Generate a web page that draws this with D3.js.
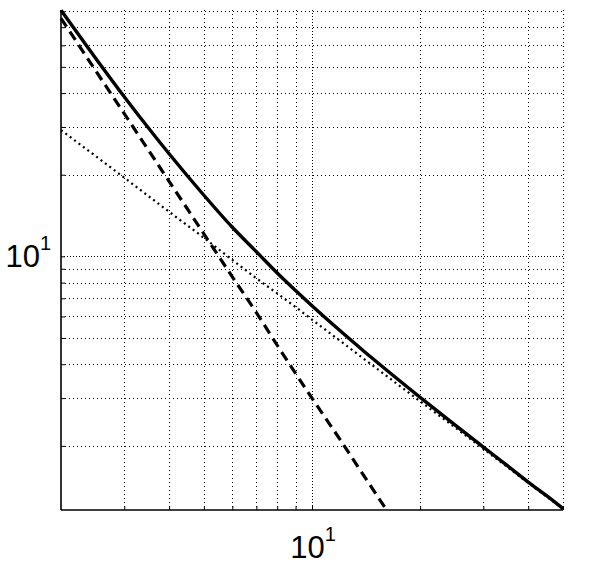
<!DOCTYPE html>
<html>
<head>
<meta charset="utf-8">
<script src="https://cdn.jsdelivr.net/npm/d3@7"></script>
<style>
  html, body { margin: 0; padding: 0; background: #fff; }
  svg { display: block; }
  text { font-family: "Liberation Sans", Arial, Helvetica, sans-serif; fill: #000; }
</style>
</head>
<body>
<svg id="chart" width="594" height="567"></svg>
<script>
// ---- data ----
const xValues = [2, 2.5, 3, 3.5, 4, 5, 6, 7, 8, 9, 10, 12, 14, 16, 20, 25, 30, 35, 40, 45, 50];
const totalValues = [80.9, 53.7, 38.8, 29.8, 23.9, 16.8, 12.8, 10.4, 8.68, 7.48, 6.57, 5.30, 4.45, 3.84, 3.02, 2.39, 1.98, 1.69, 1.47, 1.31, 1.174];
const dottedValues = [29.2, 23.4, 19.5, 16.7, 14.6, 11.7, 9.7, 8.3, 7.3, 6.5, 5.84, 4.87, 4.17, 3.65, 2.92, 2.34, 1.95, 1.67, 1.46, 1.30, 1.17];
const dashedX = [2, 2.5, 3, 3.5, 4, 5, 6, 7, 8, 9, 10, 12, 14, 16];
const dashedValues = [75.5, 48.3, 33.6, 24.7, 18.9, 12.1, 8.4, 6.2, 4.7, 3.7, 3.0, 2.1, 1.54, 1.18];
const xDomain = [2, 50];
const yDomain = [1.16, 81];
const xTickLabels = [10];
const yTickLabels = [10];
const xGrid = [3, 4, 5, 6, 7, 8, 9, 10, 20, 30, 40, 50];
const yGrid = [2, 3, 4, 5, 6, 7, 8, 9, 10, 20, 30, 40, 50, 60, 70, 80];

(function () {
// ---- layout ----
const mLeft = 61, mRight = 563, mTop = 10, mBottom = 510;
const svg = d3.select("#chart");
const x = d3.scaleLog().domain(xDomain).range([mLeft, mRight]);
const y = d3.scaleLog().domain(yDomain).range([mBottom, mTop]);

// grid
const grid = svg.append("g").attr("shape-rendering", "crispEdges");
grid.selectAll("line.vx").data(xGrid).join("line")
  .attr("x1", d => Math.round(x(d)) + 0.5).attr("x2", d => Math.round(x(d)) + 0.5)
  .attr("y1", mTop).attr("y2", mBottom)
  .attr("stroke", "#000").attr("stroke-width", 1)
  .attr("stroke-dasharray", d => d === 10 ? "1,2" : "1,3");
grid.selectAll("line.hy").data(yGrid).join("line")
  .attr("y1", d => Math.round(y(d)) + 0.5).attr("y2", d => Math.round(y(d)) + 0.5)
  .attr("x1", mLeft).attr("x2", mRight)
  .attr("stroke", "#000").attr("stroke-width", 1)
  .attr("stroke-dasharray", d => d === 10 ? "1,2" : "1,3");

// axes
const xAxis = d3.axisBottom(x).tickValues(xGrid).tickSize(-4).tickFormat("");
const yAxis = d3.axisLeft(y).tickValues(yGrid).tickSize(-4).tickFormat("");
const gx = svg.append("g").attr("transform", `translate(0,${mBottom})`).call(xAxis);
const gy = svg.append("g").attr("transform", `translate(${mLeft},0)`).call(yAxis);
[gx, gy].forEach(g => {
  g.select(".domain").attr("stroke", "#000").attr("stroke-width", 1.6);
  g.selectAll(".tick line").attr("stroke", "#000").attr("stroke-width", 1);
});
gx.select(".domain").attr("d", `M${mLeft},0H${mRight}`);
gy.select(".domain").attr("d", `M0,${mTop}V${mBottom}`);

// tick labels (10^1)
yTickLabels.forEach(v => {
  const t = svg.append("text").attr("x", 51).attr("y", y(v) + 11)
    .attr("text-anchor", "end").style("font-size", "31px");
  t.append("tspan").text("10");
  t.append("tspan").attr("dy", -17).style("font-size", "20px").text("1");
});
xTickLabels.forEach(v => {
  const t = svg.append("text").attr("x", x(v) + 1).attr("y", 558)
    .attr("text-anchor", "middle").style("font-size", "31px");
  t.append("tspan").text("10");
  t.append("tspan").attr("dy", -17).style("font-size", "20px").text("1");
});

// lines
const line = d3.line().x(d => x(d[0])).y(d => y(d[1])).curve(d3.curveMonotoneX);
svg.append("path").datum(xValues.map((v, i) => [v, dottedValues[i]]))
  .attr("d", line).attr("fill", "none").attr("stroke", "#000")
  .attr("stroke-width", 2.2).attr("stroke-dasharray", "2,3.5");
svg.append("path").datum(dashedX.map((v, i) => [v, dashedValues[i]]))
  .attr("d", line).attr("fill", "none").attr("stroke", "#000")
  .attr("stroke-width", 3.2).attr("stroke-dasharray", "10,6");
svg.append("path").datum(xValues.map((v, i) => [v, totalValues[i]]))
  .attr("d", line).attr("fill", "none").attr("stroke", "#000")
  .attr("stroke-width", 3.4);
})();
</script>
</body>
</html>
